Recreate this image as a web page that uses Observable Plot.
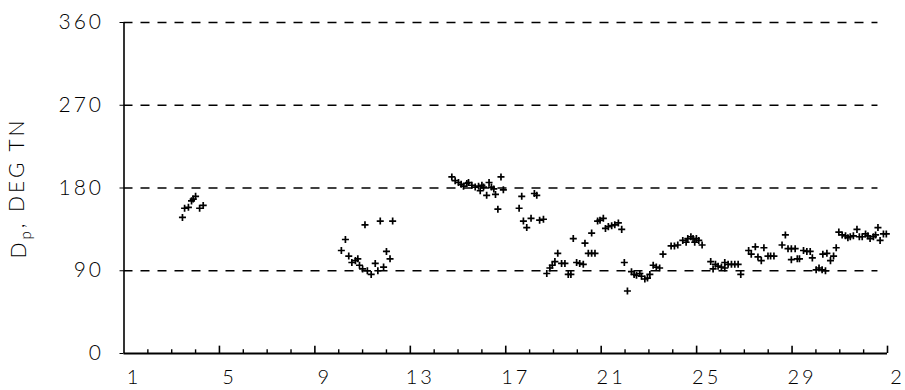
<!DOCTYPE html>
<html><head><meta charset="utf-8">
<script src="https://cdn.jsdelivr.net/npm/d3@7"></script>
<script src="https://cdn.jsdelivr.net/npm/@observablehq/plot@0.6"></script>
<style>
body{margin:0;background:#fff;}
svg{display:block}
svg text{letter-spacing:3px}
</style>
</head><body><div id="chart"></div>
<script>
// Day of month (decimal) and peak direction Dp (deg TN)
const days = [
  3.45,3.54,3.7,3.83,3.9,4.0,4.17,4.32,
  10.11,10.28,10.42,10.55,10.7,10.8,10.87,11.0,11.1,11.2,11.36,11.53,11.64,11.74,11.88,12.0,12.15,12.26,
  14.74,14.88,15.02,15.13,15.23,15.37,15.44,15.58,15.72,15.86,15.93,16.0,16.07,16.2,16.3,16.4,16.5,16.57,16.67,16.8,16.9,
  17.56,17.67,17.74,17.88,18.06,18.2,18.3,18.42,18.58,
  18.72,18.85,18.95,19.06,19.18,19.34,19.48,19.62,19.73,19.83,19.97,20.1,20.25,20.32,20.46,20.6,20.74,20.6,
  20.85,20.95,21.09,21.18,21.3,21.44,21.57,21.72,21.86,21.97,22.1,
  22.27,22.38,22.48,22.62,22.69,22.83,22.94,23.04,23.18,23.31,23.45,23.59,23.93,24.07,24.21,
  24.42,24.56,24.63,24.76,24.85,24.92,24.99,25.09,25.23,
  25.59,25.69,25.79,25.9,26.04,26.18,26.18,26.32,26.46,26.6,26.74,26.85,
  27.18,27.29,27.46,27.57,27.71,27.82,27.99,28.1,28.24,
  28.58,28.72,28.83,28.97,28.97,29.13,29.22,29.31,29.48,29.62,29.76,29.85,
  30.01,30.13,30.26,30.4,30.29,30.46,30.61,30.74,30.85,
  30.96,31.1,31.24,31.34,31.44,31.57,31.72,31.82,31.94,32.08,32.18,32.27,32.41,32.5,32.6,32.69,32.83,32.95
];
const dirs = [
  148,158,159,166,168,171,158,161,
  112,124,106,99,101,103,96,92,140,90,86,98,90,144,94,111,103,144,
  192,188,186,184,182,185,186,183,181,182,177,183,181,172,186,181,179,173,157,192,178,
  158,171,144,137,147,174,172,145,146,
  87,93,96,100,109,98,98,86,86,125,99,98,97,120,109,109,109,131,
  144,145,147,136,138,139,140,142,135,99,68,
  89,86,85,87,84,81,82,86,96,94,93,108,117,117,118,
  123,121,125,127,125,121,125,123,118,
  100,92,97,95,94,99,93,97,97,97,97,86,
  112,108,116,105,101,115,106,106,106,
  118,129,114,114,102,114,103,103,112,111,111,104,
  91,93,91,90,108,109,101,106,115,
  132,129,128,126,127,128,135,127,127,130,128,125,127,129,137,123,130,130
];
const gridLevels = [90,180,270,360];
const yTicks = [0,90,180,270,360];
const xTickDays = [1,5,9,13,17,21,25,29,33];
const xTickLabels = ["1","5","9","13","17","21","25","29","2"];
const majorTickDays = [5,9,13,17,21,25,29,33];
const minorTickDays = [2,3,4,6,7,8,10,11,12,14,15,16,18,19,20,22,23,24,26,27,28,30,31,32];
const yLabel = "Dp, DEG TN";

const points = days.map((d,i)=>({day:d, dir:dirs[i]}));

const chart = Plot.plot({
  width: 905, height: 390,
  marginLeft: 123.5, marginRight: 18, marginTop: 22, marginBottom: 37,
  x: {domain:[1,33]},
  y: {domain:[0,360]},
  style: {fontFamily: "Lato", fontWeight: 300, fontSize: "21px", color:"#000", background:"white"},
  marks: [
    Plot.ruleY(gridLevels, {x1: 1, x2: 32.6, stroke:"#000", strokeWidth:1.6, strokeDasharray:"9,8"}),
    Plot.ruleX([1], {y1:0, y2:360, stroke:"#000", strokeWidth:1.6}),
    Plot.ruleY([0], {x1:1, x2:33, stroke:"#000", strokeWidth:2.2}),
    Plot.ruleX(minorTickDays, {y1:0, y2:4, stroke:"#000", strokeWidth:1.4}),
    Plot.ruleX(majorTickDays, {y1:0, y2:8, stroke:"#000", strokeWidth:1.6}),
    Plot.axisX({ticks: xTickDays, tickFormat: d => xTickLabels[xTickDays.indexOf(d)], tickSize:0, tickPadding:16, dx:10, label:null, fontSize:20}),
    Plot.axisY({ticks: yTicks, tickSize:4, tickPadding:16, fontSize:21, label: yLabel, labelAnchor:"center", labelArrow:"none", labelOffset:113}),
    Plot.dot(points, {x:"day", y:"dir", symbol:"plus", r:2.4, stroke:"#000", strokeWidth:1.7})
  ]
});
document.getElementById("chart").appendChild(chart);

// subscript p in the y-axis label
const lab = d3.select(chart).select('g[aria-label="y-axis label"] text');
if (!lab.empty()) {
  lab.text(null);
  lab.append("tspan").text(yLabel.slice(0,1));
  lab.append("tspan").attr("dy","0.35em").attr("font-size","15px").text(yLabel.slice(1,2));
  lab.append("tspan").attr("dy","-0.35em").text(yLabel.slice(2));
}
</script>
</body></html>
